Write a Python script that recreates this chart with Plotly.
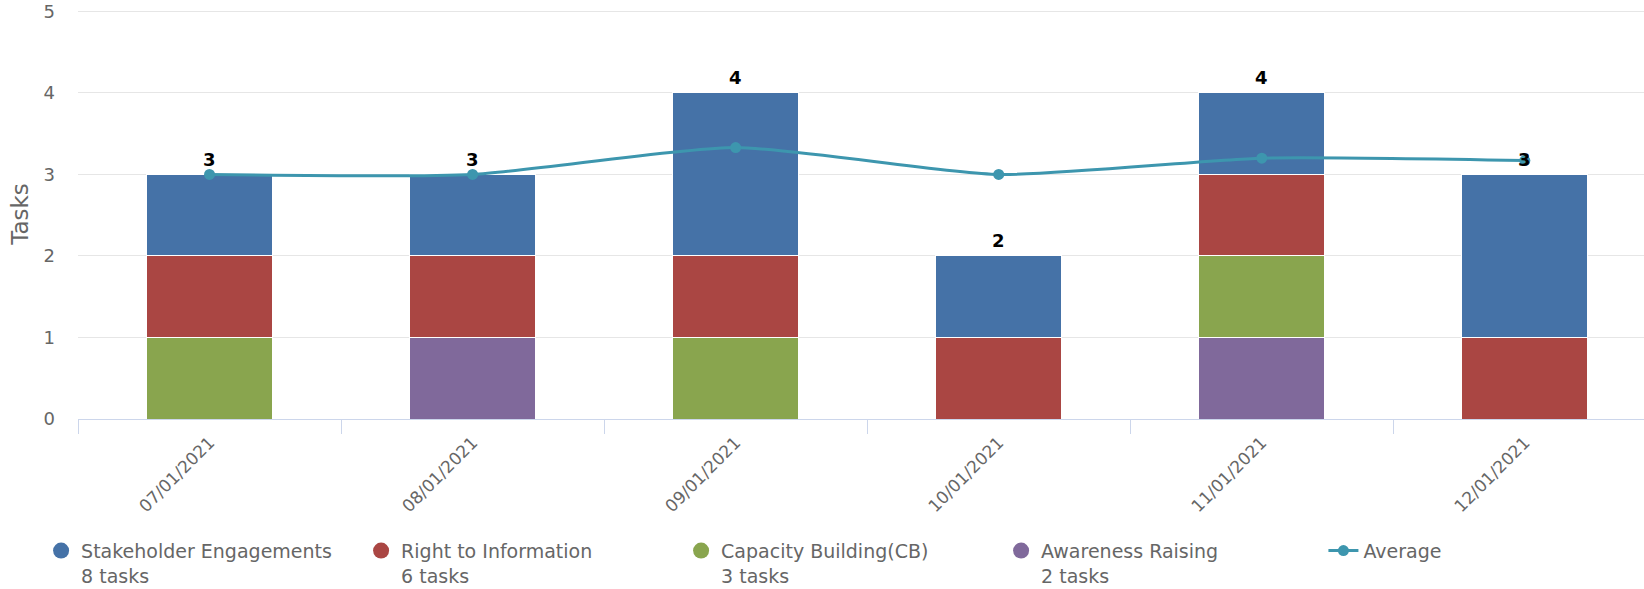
import plotly.graph_objects as go

# Monthly task counts by activity type
months = ["07/01/2021", "08/01/2021", "09/01/2021", "10/01/2021", "11/01/2021", "12/01/2021"]
stakeholder = [1, 1, 2, 1, 1, 2]
right_to_info = [1, 1, 1, 1, 1, 1]
capacity_building = [1, 0, 1, 0, 1, 0]
awareness = [0, 1, 0, 0, 1, 0]
average = [3.0, 3.0, 3.33, 3.0, 3.2, 3.17]

series = [
    ("Stakeholder Engagements", stakeholder, "#4572A7"),
    ("Right to Information", right_to_info, "#AA4643"),
    ("Capacity Building(CB)", capacity_building, "#89A54E"),
    ("Awareness Raising", awareness, "#80699B"),
]
avg_color = "#3D96AE"
font_family = "DejaVu Sans"
gray = "#666666"

totals = [sum(vals) for vals in zip(stakeholder, right_to_info, capacity_building, awareness)]

fig = go.Figure()

# Stacked bars, bottom layer first
for name, vals, color in reversed(series):
    fig.add_trace(go.Bar(
        x=months, y=vals, name=name, width=0.48,
        marker=dict(color=color, line=dict(color="white", width=1)),
        showlegend=False, hoverinfo="x+y+name",
    ))

# Legend entries with round symbols
for i, (name, vals, color) in enumerate(series):
    fig.add_trace(go.Scatter(
        x=[None], y=[None], mode="markers", name=f"{name}<br>{sum(vals)} tasks",
        marker=dict(color=color, size=16), legendrank=i + 1, legend="legend",
    ))

fig.add_trace(go.Scatter(
    x=months, y=average, name="Average", mode="lines+markers",
    line=dict(color=avg_color, width=3, shape="spline", smoothing=0.6),
    marker=dict(color=avg_color, size=11), legend="legend2",
))

# Stack totals above each column
for m, t in zip(months, totals):
    fig.add_annotation(
        x=m, y=t, text=str(t), showarrow=False, yanchor="middle", yshift=15,
        font=dict(family=font_family, size=18, color="#000000", weight="bold"),
    )

legend_common = dict(
    orientation="h", xref="container", yref="container",
    xanchor="left", yanchor="top", valign="top",
    font=dict(size=19, color=gray), bgcolor="rgba(0,0,0,0)",
)

fig.update_layout(
    width=1644, height=589,
    margin=dict(l=78, r=0, t=8.6, b=170),
    paper_bgcolor="white", plot_bgcolor="white",
    barmode="stack",
    font=dict(family=font_family, color=gray),
    xaxis=dict(
        type="category", range=[-0.5, 5.453],
        showgrid=False, showline=True, linecolor="#ccd6eb", linewidth=1,
        ticks="outside", tickson="boundaries", ticklen=14, tickcolor="#ccd6eb",
        tickangle=-45, tickfont=dict(size=17, color=gray), ticklabelstandoff=6,
    ),
    yaxis=dict(
        range=[0, 5.03], tickvals=[0, 1, 2, 3, 4, 5],
        showgrid=True, gridcolor="#e6e6e6", gridwidth=1,
        zeroline=False, showline=False,
        tickfont=dict(size=18, color=gray), ticklabelstandoff=22,
        title=dict(text="Tasks", font=dict(size=23, color=gray), standoff=8),
    ),
    legend=dict(x=0.025, y=0.0973, entrywidth=275, entrywidthmode="pixels",
                traceorder="normal", **legend_common),
    legend2=dict(x=0.805, y=0.0973, **legend_common),
)

fig.write_html("out.html")
